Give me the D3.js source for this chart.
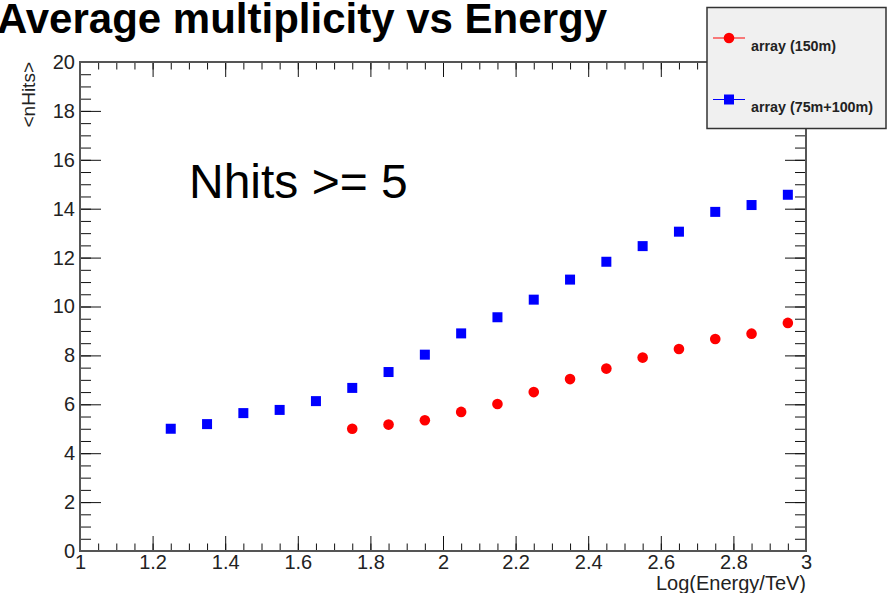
<!DOCTYPE html>
<html>
<head>
<meta charset="utf-8">
<script src="https://cdnjs.cloudflare.com/ajax/libs/d3/7.8.5/d3.min.js"></script>
<style>
    body { margin: 0; background: #fff; }
    text { font-family: "Liberation Sans", Arial, sans-serif; }
</style>
</head>
<body>
<script>
// Data
var energyBlue = [1.25, 1.35, 1.45, 1.55, 1.65, 1.75, 1.85, 1.95, 2.05, 2.15, 2.25, 2.35, 2.45, 2.55, 2.65, 2.75, 2.85, 2.95];
var hitsBlue = [5.0, 5.19, 5.64, 5.77, 6.13, 6.67, 7.32, 8.03, 8.9, 9.56, 10.28, 11.1, 11.83, 12.47, 13.06, 13.87, 14.15, 14.57];
var energyRed = [1.75, 1.85, 1.95, 2.05, 2.15, 2.25, 2.35, 2.45, 2.55, 2.65, 2.75, 2.85, 2.95];
var hitsRed = [5.0, 5.17, 5.35, 5.69, 6.01, 6.5, 7.03, 7.46, 7.91, 8.26, 8.67, 8.89, 9.33];
var xTicks = [1, 1.2, 1.4, 1.6, 1.8, 2, 2.2, 2.4, 2.6, 2.8, 3];
var yTicks = [0, 2, 4, 6, 8, 10, 12, 14, 16, 18, 20];
var legendLabels = ["array (150m)", "array (75m+100m)"];

(function () {

    // Colors
    var redColor = "#ff0000";
    var blueColor = "#0000ff";
    var axisColor = "#555555";

    var W = 889, H = 593;
    var plot = {left: 80, right: 806, top: 62, bottom: 551};

    var svg = d3.select("body").append("svg")
        .attr("width", W)
        .attr("height", H);

    var x = d3.scaleLinear().domain([1, 3]).range([plot.left, plot.right]);
    var y = d3.scaleLinear().domain([0, 20]).range([plot.bottom, plot.top]);

    var xMinor = d3.range(1, 3.001, 0.05);
    var yMinor = d3.range(0, 20.001, 0.5);

    // bottom axis
    svg.append("g")
        .attr("transform", "translate(0," + plot.bottom + ")")
        .call(d3.axisTop(x).tickValues(xMinor).tickSize(7.5).tickFormat(""))
        .call(function (g) { g.select(".domain").remove(); });
    svg.append("g")
        .attr("class", "xaxis")
        .attr("transform", "translate(0," + plot.bottom + ")")
        .call(d3.axisTop(x).tickValues(xTicks).tickSize(15).tickFormat(d3.format("")))
        .call(function (g) { g.select(".domain").remove(); });

    // top axis
    svg.append("g")
        .attr("transform", "translate(0," + plot.top + ")")
        .call(d3.axisBottom(x).tickValues(xMinor).tickSize(7.5).tickFormat(""))
        .call(function (g) { g.select(".domain").remove(); });
    svg.append("g")
        .attr("transform", "translate(0," + plot.top + ")")
        .call(d3.axisBottom(x).tickValues(xTicks).tickSize(15).tickFormat(""))
        .call(function (g) { g.select(".domain").remove(); });

    // left axis
    svg.append("g")
        .attr("transform", "translate(" + plot.left + ",0)")
        .call(d3.axisRight(y).tickValues(yMinor).tickSize(11).tickFormat(""))
        .call(function (g) { g.select(".domain").remove(); });
    svg.append("g")
        .attr("class", "yaxis")
        .attr("transform", "translate(" + plot.left + ",0)")
        .call(d3.axisRight(y).tickValues(yTicks).tickSize(21))
        .call(function (g) { g.select(".domain").remove(); });

    // right axis
    svg.append("g")
        .attr("transform", "translate(" + plot.right + ",0)")
        .call(d3.axisLeft(y).tickValues(yMinor).tickSize(11).tickFormat(""))
        .call(function (g) { g.select(".domain").remove(); });
    svg.append("g")
        .attr("transform", "translate(" + plot.right + ",0)")
        .call(d3.axisLeft(y).tickValues(yTicks).tickSize(21).tickFormat(""))
        .call(function (g) { g.select(".domain").remove(); });

    svg.selectAll(".tick line").attr("stroke", "#111").attr("stroke-width", 1);

    // tick labels (axisTop puts them above, move below axis)
    svg.selectAll(".xaxis .tick text")
        .attr("y", 4)
        .attr("dy", "0.71em")
        .style("font-size", "20px")
        .attr("fill", "#222");
    svg.selectAll(".yaxis .tick text")
        .attr("x", -5)
        .attr("text-anchor", "end")
        .style("font-size", "20px")
        .attr("fill", "#222");

    // frame
    svg.append("rect")
        .attr("x", plot.left)
        .attr("y", plot.top)
        .attr("width", plot.right - plot.left)
        .attr("height", plot.bottom - plot.top)
        .attr("fill", "none")
        .attr("stroke", axisColor)
        .attr("stroke-width", 2);

    // blue squares
    svg.selectAll(".sq")
        .data(energyBlue)
        .enter().append("rect")
        .attr("class", "sq")
        .attr("x", function (d) { return x(d) - 5; })
        .attr("y", function (d, i) { return y(hitsBlue[i]) - 5; })
        .attr("width", 10)
        .attr("height", 10)
        .attr("fill", blueColor);

    // red circles
    svg.selectAll(".dot")
        .data(energyRed)
        .enter().append("circle")
        .attr("class", "dot")
        .attr("cx", function (d) { return x(d); })
        .attr("cy", function (d, i) { return y(hitsRed[i]); })
        .attr("r", 5.3)
        .attr("fill", redColor);

    // title (runs off the left edge, as in the original)
    svg.append("text")
        .attr("x", 607)
        .attr("y", 33)
        .attr("text-anchor", "end")
        .style("font-size", "42px")
        .style("font-weight", "bold")
        .text("Average multiplicity vs Energy");

    // annotation
    svg.append("text")
        .attr("x", 189)
        .attr("y", 198)
        .style("font-size", "48px")
        .text("Nhits >= 5");

    // axis titles
    svg.append("text")
        .attr("transform", "translate(35," + plot.top + ") rotate(-90)")
        .attr("text-anchor", "end")
        .style("font-size", "19px")
        .attr("fill", "#222")
        .text("<nHits>");

    svg.append("text")
        .attr("x", plot.right)
        .attr("y", 590)
        .attr("text-anchor", "end")
        .style("font-size", "20px")
        .attr("fill", "#222")
        .text("Log(Energy/TeV)");

    // legend
    var lg = svg.append("g");
    lg.append("rect")
        .attr("x", 707)
        .attr("y", 7.5)
        .attr("width", 179)
        .attr("height", 121)
        .attr("fill", "#f0f0f0")
        .attr("stroke", "#333")
        .attr("stroke-width", 1.5);

    var rows = lg.selectAll(".legend")
        .data(legendLabels)
        .enter().append("g")
        .attr("class", "legend")
        .attr("transform", function (d, i) { return "translate(0," + (38 + i * 61.5) + ")"; });

    rows.append("line")
        .attr("x1", 713).attr("x2", 745)
        .attr("y1", 0).attr("y2", 0)
        .attr("stroke", function (d, i) { return i == 0 ? redColor : blueColor; })
        .attr("stroke-width", 1);

    rows.filter(function (d, i) { return i == 0; })
        .append("circle")
        .attr("cx", 729).attr("cy", 0).attr("r", 5.3)
        .attr("fill", redColor);

    rows.filter(function (d, i) { return i == 1; })
        .append("rect")
        .attr("x", 724).attr("y", -5).attr("width", 10).attr("height", 10)
        .attr("fill", blueColor);

    rows.append("text")
        .attr("x", 751)
        .attr("y", 12.5)
        .style("font-size", "14.3px")
        .style("font-weight", "bold")
        .attr("fill", "#222")
        .text(function (d) { return d; });

})();
</script>
</body>
</html>
